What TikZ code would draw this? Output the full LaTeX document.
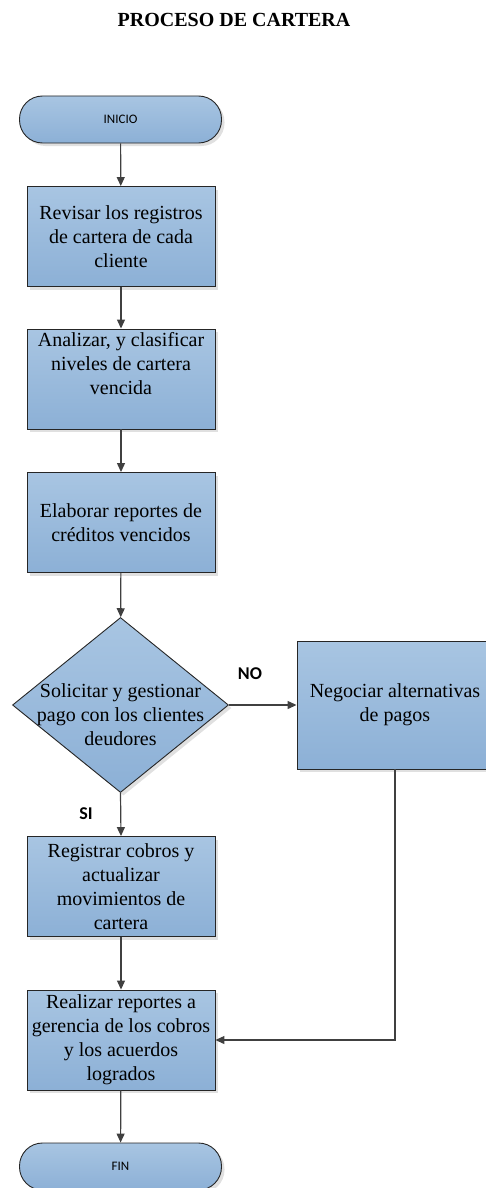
\documentclass[tikz,border=0pt]{standalone}
\usepackage{fontspec}
\setmainfont{Liberation Serif}
\newfontfamily\calfont{Carlito}
\usepackage{xcolor}
\usetikzlibrary{shapes, shapes.geometric, shadows, arrows.meta, positioning}

\definecolor{boxtop}{HTML}{A8C5E2}
\definecolor{boxbot}{HTML}{8CB0D6}
\definecolor{linegray}{HTML}{404040}

\tikzset{
	procbox/.style={draw=black!85, line width=0.9pt, top color=boxtop, bottom color=boxbot,
		minimum width=188pt, minimum height=100pt, inner sep=0pt, align=center,
		font=\fontsize{20}{24}\selectfont,
		drop shadow={shadow xshift=3pt, shadow yshift=-3pt, fill=black!12, opacity=1}},
	termbox/.style={procbox, rounded corners=23pt, minimum width=202pt, minimum height=47pt,
		font=\calfont\fontsize{13}{15}\selectfont},
	flow/.style={draw=linegray, line width=1.2pt, -{Triangle[length=9pt,width=8pt]}},
	tag/.style={font=\calfont\bfseries\fontsize{18}{20}\selectfont}
}

\begin{document}
\begin{tikzpicture}[x=1pt, y=-1pt]
			\useasboundingbox (0,0) rectangle (485,1188);
			\node[anchor=base, font=\bfseries\fontsize{20}{24}\selectfont] (title) at (234,27) {PROCESO DE CARTERA};
			
			\node[termbox] (inicio) at (120.5,119.5) {INICIO};
			\node[procbox] (revisar) at (121,236.5) {Revisar los registros\\de cartera de cada\\cliente};
			\node[procbox] (analizar) at (121,379) {Analizar, y clasificar\\niveles de cartera\\vencida\\\strut};
			\node[procbox] (elaborar) at (121,522.5) {Elaborar reportes de\\cr\'editos vencidos};
			\node[diamond, draw=black!85, line width=0.9pt, top color=boxtop, bottom color=boxbot,
				minimum width=216pt, minimum height=175pt, inner sep=0pt,
				drop shadow={shadow xshift=3pt, shadow yshift=-3pt, fill=black!12, opacity=1}] (decide) at (120.5,705) {};
			\node[align=center, font=\fontsize{20}{24}\selectfont, yshift=-10pt] (decidetxt) at (decide) {Solicitar y gestionar\\pago con los clientes\\deudores};
			\node[procbox, minimum width=196pt, minimum height=128pt] (negociar) at (395,705) {Negociar alternativas\\de pagos};
			\node[procbox] (registrar) at (121,886.5) {Registrar cobros y\\actualizar\\movimientos de\\cartera};
			\node[procbox] (realizar) at (121,1040) {Realizar reportes a\\gerencia de los cobros\\y los acuerdos\\logrados};
			\node[termbox] (fin) at (120.5,1166.5) {FIN};
			
			\node[tag] (no) at (250,674) {NO};
			\node[tag] (si) at (86,814) {SI};
			
			\draw[flow] (inicio) -- (revisar);
			\draw[flow] (revisar) -- (analizar);
			\draw[flow] (analizar) -- (elaborar);
			\draw[flow] (elaborar) -- (decide);
			\draw[flow] (decide.east) -- (negociar.west);
			\draw[flow] (decide.south) -- (registrar.north);
			\draw[flow] (registrar) -- (realizar);
			\draw[flow] (negociar.south) |- (realizar.east);
			\draw[flow] (realizar) -- (fin);
		\end{tikzpicture}
\end{document}
